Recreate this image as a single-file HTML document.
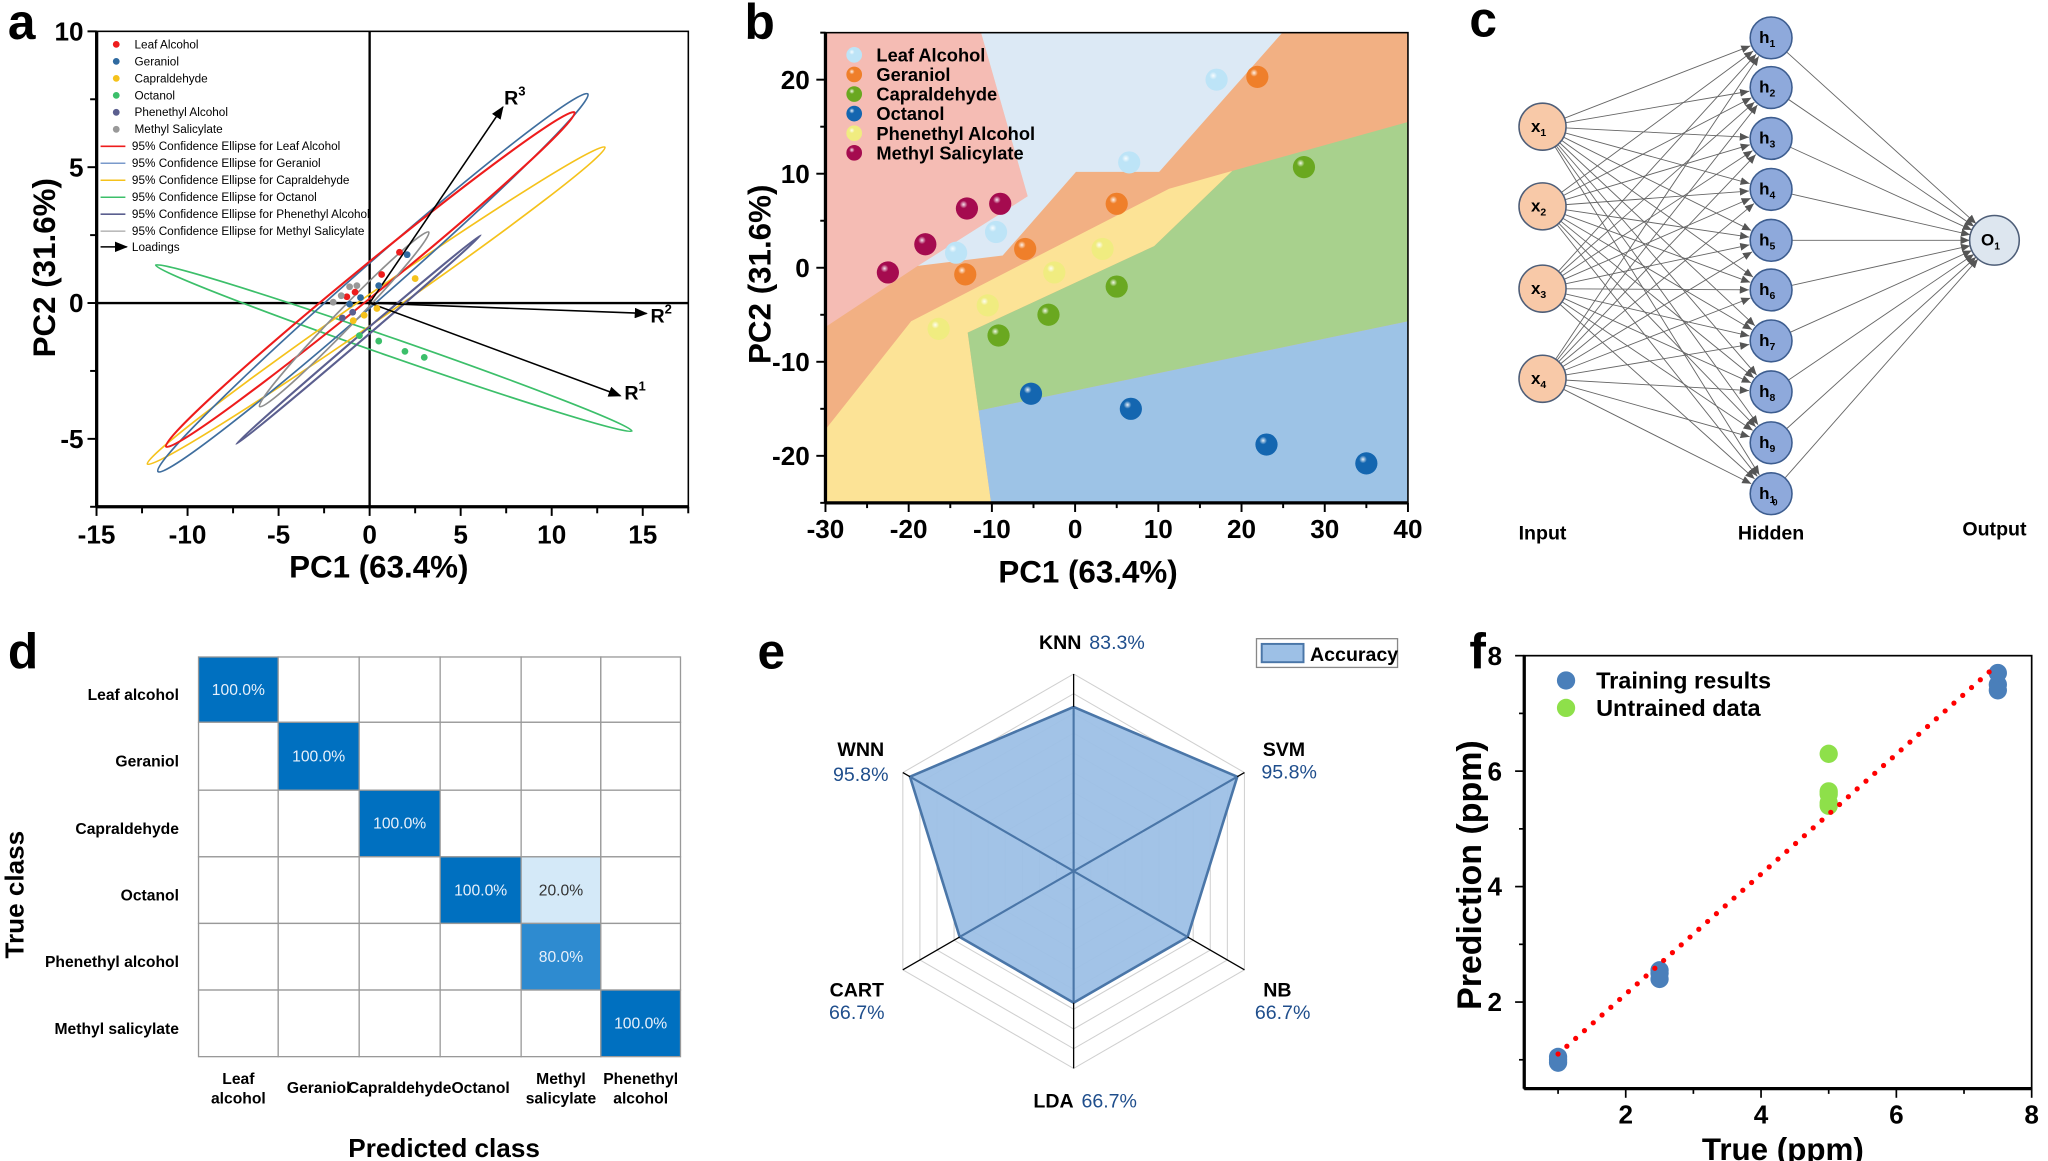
<!DOCTYPE html>
<html><head><meta charset="utf-8">
<style>
html,body{margin:0;padding:0;background:#fff;overflow:hidden}
svg{display:block}
text{font-family:"Liberation Sans",Arial,sans-serif}
</style></head>
<body>
<svg id="s" width="2048" height="1161" viewBox="0 0 2048 1161" xmlns="http://www.w3.org/2000/svg">
<defs>
<radialGradient id="gl" cx="35%" cy="32%" r="70%"><stop offset="0" stop-color="#fff" stop-opacity="0.9"/><stop offset="0.25" stop-color="#fff" stop-opacity="0"/></radialGradient>
<marker id="ah" markerWidth="10" markerHeight="8" refX="9" refY="4" orient="auto" markerUnits="userSpaceOnUse"><path d="M0,0 L10,4 L0,8 z" fill="#000"/></marker>
<marker id="ah2" markerWidth="7" markerHeight="6" refX="7" refY="3" orient="auto" markerUnits="userSpaceOnUse"><path d="M0,0 L7,3 L0,6 z" fill="#555"/></marker>
</defs>
<g id="g" transform="scale(1.30612)"></g>
</svg>
<script>
const NS="http://www.w3.org/2000/svg";const G=document.getElementById('g');
function el(t,a,txt){const e=document.createElementNS(NS,t);for(const k in a)e.setAttribute(k,a[k]);if(txt!==undefined)e.textContent=txt;G.appendChild(e);return e;}
function T(x,y,s,o){o=o||{};return el('text',Object.assign({x:x,y:y,'font-size':o.fs||14,'font-weight':o.fw||'bold','text-anchor':o.a||'middle',fill:o.fill||'#000'},o.tr?{transform:o.tr}:{}),s);}
[['a',6,30],['b',570,30],['c',1125,28],['d',6,512],['e',580,512],['f',1125,512]].forEach(l=>T(l[1],l[2],l[0],{fs:38,a:'start'}));

// ===== Panel a =====
const ax=x=>283+x*13.94, ay=y=>232-y*20.8;
el('rect',{x:74,y:24,width:453,height:364,fill:'none',stroke:'#000','stroke-width':1.2});
el('line',{x1:74,y1:24,x2:74,y2:388,stroke:'#000','stroke-width':2.5});
el('line',{x1:74,y1:388,x2:527,y2:388,stroke:'#000','stroke-width':2.5});
el('line',{x1:283,y1:24,x2:283,y2:388,stroke:'#000','stroke-width':1.8});
el('line',{x1:74,y1:232,x2:527,y2:232,stroke:'#000','stroke-width':1.8});
for(let v=-15;v<=17.5;v+=2.5){const X=ax(v);el('line',{x1:X,y1:388,x2:X,y2:v%5==0?395:393,stroke:'#000','stroke-width':1.5});if(v%5==0)T(X,416,String(v),{fs:20});}
for(let v=-7.5;v<=10;v+=2.5){const Y=ay(v);el('line',{x1:74,y1:Y,x2:v%5==0?67:69,y2:Y,stroke:'#000','stroke-width':1.5});if(v%5==0)T(64,Y+7,String(v),{fs:20,a:'end'});}
T(290,442,'PC1 (63.4%)',{fs:24});
T(42,205,'PC2 (31.6%)',{fs:24,tr:'rotate(-90 42 205)'});
function ell(cx,cy,rx,ry,ang,c,w){el('ellipse',{cx:cx,cy:cy,rx:rx,ry:ry,fill:'none',stroke:c,'stroke-width':w||1.3,transform:`rotate(${ang} ${cx} ${cy})`});}
ell(301.5,266.5,193,7,19.2,'#3cbf6a');
ell(288,234,213,10,-34.7,'#f5c21b');
ell(285.5,216.5,219,13,-41.3,'#3f6e9e');
ell(283.5,214,202,11,-39.3,'#ee1c1c',1.6);
ell(263.5,244.5,93,7,-45.9,'#8e8e8e');
ell(274.5,260,123,2,-40.5,'#5b5f8f',1.6);
[[385,82],[495,240],[475,303]].forEach(p=>el('line',{x1:283,y1:232,x2:p[0],y2:p[1],stroke:'#000','stroke-width':1.2,'marker-end':'url(#ah)'}));
function sup(x,y,b,s){const t=T(x,y,b,{fs:15,a:'start'});const ts=document.createElementNS(NS,'tspan');ts.setAttribute('font-size',10);ts.setAttribute('dy',-7);ts.textContent=s;t.appendChild(ts);}
sup(386,80,'R','3');sup(498,247,'R','2');sup(478,306,'R','1');
const ap={'#ee1c1c':[[1.64,1.87],[0.66,1.05],[-0.8,0.4],[-1.25,0.23]],'#2f6aa0':[[2.06,1.78],[0.5,0.64],[-0.5,0.2],[-1.1,-0.04]],'#f5c21b':[[2.5,0.9],[0.4,-0.2],[-0.3,-0.45],[-0.9,-0.65]],'#3cbf6a':[[-0.56,-1.2],[0.5,-1.4],[1.94,-1.78],[3,-2]],'#5b5f8f':[[-1.5,-0.55],[-0.93,-0.34]],'#999':[[-1.1,0.6],[-0.7,0.64],[-1.56,0.27],[-2,0.03]]};
for(const c in ap)ap[c].forEach(p=>el('circle',{cx:ax(p[0]),cy:ay(p[1]),r:2.6,fill:c}));
const la=[['#ee1c1c','Leaf Alcohol'],['#2f6aa0','Geraniol'],['#f5c21b','Capraldehyde'],['#3cbf6a','Octanol'],['#5b5f8f','Phenethyl Alcohol'],['#999','Methyl Salicylate']];
la.forEach((l,i)=>{const y=34+i*13;el('circle',{cx:89,cy:y,r:2.6,fill:l[0]});T(103,y+3,l[1],{fs:9,a:'start',fw:'normal'});});
const le=[['#ee1c1c','95% Confidence Ellipse for  Leaf Alcohol'],['#7a9acb','95% Confidence Ellipse for Geraniol'],['#f5c21b','95% Confidence Ellipse for Capraldehyde'],['#3cbf6a','95% Confidence Ellipse for Octanol'],['#5b5f8f','95% Confidence Ellipse for Phenethyl Alcohol'],['#bbb','95% Confidence Ellipse for  Methyl Salicylate']];
le.forEach((l,i)=>{const y=112+i*13;el('line',{x1:77,y1:y,x2:96,y2:y,stroke:l[0],'stroke-width':1.2});T(101,y+3,l[1],{fs:9,a:'start',fw:'normal'});});
el('line',{x1:77,y1:189,x2:97,y2:189,stroke:'#000','stroke-width':1.2,'marker-end':'url(#ah)'});
T(101,192,'Loadings',{fs:9,a:'start',fw:'normal'});

// ===== Panel b =====
const bx=x=>632+(x+30)*6.371, by=y=>205-y*7.2;
const P=a=>a.map(p=>bx(p[0]).toFixed(1)+','+by(p[1]).toFixed(1)).join(' ');
el('rect',{x:bx(-30),y:by(25),width:bx(40)-bx(-30),height:by(-25)-by(25),fill:'#f2b083'});
el('polygon',{points:P([[-30,25],[-11.3,25],[-5.7,7.6],[-18.9,0.2],[-30,-6.3]]),fill:'#f5bcb4'});
el('polygon',{points:P([[-11.3,25],[24.9,25],[10.1,10.2],[0.1,10.2],[-8.7,1.3],[-18.9,0.2],[-5.7,7.6]]),fill:'#dce9f5'});
el('polygon',{points:P([[-30,-17.2],[-19.7,-5.7],[-9,-0.8],[11.3,8.4],[18.9,10.3],[9.5,2.3],[-12.9,-6.9],[-11.6,-15.2],[-10.1,-25],[-30,-25]]),fill:'#fce396'});
el('polygon',{points:P([[18.9,10.3],[40,15.5],[40,-5.7],[-11.6,-15.2],[-12.9,-6.9],[9.5,2.3]]),fill:'#a8d18d'});
el('polygon',{points:P([[-11.6,-15.2],[40,-5.7],[40,-25],[-10.1,-25]]),fill:'#9dc3e6'});
el('rect',{x:bx(-30),y:by(25),width:bx(40)-bx(-30),height:by(-25)-by(25),fill:'none',stroke:'#000','stroke-width':1.2});
el('line',{x1:bx(-30),y1:by(25),x2:bx(-30),y2:by(-25),stroke:'#000','stroke-width':2.5});
el('line',{x1:bx(-30),y1:by(-25),x2:bx(40),y2:by(-25),stroke:'#000','stroke-width':2.5});
for(let v=-30;v<=40;v+=5){const X=bx(v);el('line',{x1:X,y1:by(-25),x2:X,y2:by(-25)+(v%10==0?7:4),stroke:'#000','stroke-width':1.5});if(v%10==0)T(X,412,String(v),{fs:20});}
for(let v=-25;v<=25;v+=5){const Y=by(v);el('line',{x1:bx(-30),y1:Y,x2:bx(-30)-(v%10==0?7:4),y2:Y,stroke:'#000','stroke-width':1.5});if(v%10==0&&Math.abs(v)<25)T(620,Y+7,String(v),{fs:20,a:'end'});}
T(833,446,'PC1 (63.4%)',{fs:24});
T(590,210,'PC2 (31.6%)',{fs:24,tr:'rotate(-90 590 210)'});
const bp=[['#bde4f7',[[17,20],[6.5,11.2],[-9.5,3.8],[-14.3,1.6]],'Leaf Alcohol'],['#ef7f2a',[[21.9,20.3],[5,6.8],[-6,2],[-13.2,-0.7]],'Geraniol'],['#6aa820',[[27.5,10.7],[5,-2],[-3.2,-5],[-9.2,-7.2]],'Capraldehyde'],['#1466b0',[[-5.3,-13.4],[6.7,-15],[23,-18.8],[35,-20.8]],'Octanol'],['#f0ec80',[[3.3,2],[-2.5,-0.5],[-10.5,-4],[-16.4,-6.5]],'Phenethyl Alcohol'],['#a50b4f',[[-9,6.8],[-13,6.3],[-18,2.5],[-22.5,-0.5]],'Methyl Salicylate']];
function ball(x,y,r,c){el('circle',{cx:x,cy:y,r:r,fill:c});el('circle',{cx:x,cy:y,r:r,fill:'url(#gl)'});}
bp.forEach((s,i)=>{s[1].forEach(p=>ball(bx(p[0]),by(p[1]),8.5,s[0]));ball(654,42+i*15,6,s[0]);T(671,47+i*15,s[2],{fs:14,a:'start'});});

// ===== Panel c =====
const inp=[97,158,221,290].map(y=>[1181,y]);
const hid=[29,67,106,145,184,222,261,300,339,378].map(y=>[1356,y]);
const out=[1527,184];
inp.forEach(a=>hid.forEach(h=>{const dx=h[0]-a[0],dy=h[1]-a[1],d=Math.hypot(dx,dy);el('line',{x1:a[0]+dx/d*18,y1:a[1]+dy/d*18,x2:h[0]-dx/d*17,y2:h[1]-dy/d*17,stroke:'#666','stroke-width':0.7,'marker-end':'url(#ah2)'});}));
hid.forEach(h=>{const dx=out[0]-h[0],dy=out[1]-h[1],d=Math.hypot(dx,dy);el('line',{x1:h[0]+dx/d*16,y1:h[1]+dy/d*16,x2:out[0]-dx/d*19,y2:out[1]-dy/d*19,stroke:'#666','stroke-width':0.7,'marker-end':'url(#ah2)'});});
function node(p,r,f,s,lab,sub){el('circle',{cx:p[0],cy:p[1],r:r,fill:f,stroke:s,'stroke-width':1.2});const t=T(p[0]-3,p[1]+4,lab,{fs:13});const ts=document.createElementNS(NS,'tspan');ts.setAttribute('font-size',8);ts.setAttribute('dy',3);ts.textContent=sub;t.appendChild(ts);}
inp.forEach((p,i)=>node(p,18,'#f8c9a8','#4e5e78','x',String(i+1)));
hid.forEach((p,i)=>node(p,16,'#8ea9db','#3d5d8f','h',i<9?String(i+1):'1'));
T(1359,387,'0',{fs:7});
node(out,19,'#dde6ef','#4e5e78','O','1');
T(1181,413,'Input',{fs:15});T(1356,413,'Hidden',{fs:15});T(1527,410,'Output',{fs:15});

// ===== Panel d =====
const cx=[152,213,275,337,399,460,521],ry=[503,553,605,656,707,758,809];
const cells={'0,0':['#0070c0','100.0%'],'1,1':['#0070c0','100.0%'],'2,2':['#0070c0','100.0%'],'3,3':['#0070c0','100.0%'],'3,4':['#d4e9f8','20.0%'],'4,4':['#2e8bd0','80.0%'],'5,5':['#0070c0','100.0%']};
for(let r=0;r<6;r++)for(let c=0;c<6;c++){const k=r+','+c;el('rect',{x:cx[c],y:ry[r],width:cx[c+1]-cx[c],height:ry[r+1]-ry[r],fill:cells[k]?cells[k][0]:'#fff',stroke:'#999','stroke-width':1});if(cells[k])T((cx[c]+cx[c+1])/2,(ry[r]+ry[r+1])/2+4,cells[k][1],{fs:12,fw:'normal',fill:k=='3,4'?'#333':'#e8f0fa'});}
['Leaf alcohol','Geraniol','Capraldehyde','Octanol','Phenethyl alcohol','Methyl salicylate'].forEach((s,i)=>T(137,(ry[i]+ry[i+1])/2+8,s,{fs:12,a:'end'}));
[['Leaf','alcohol'],['Geraniol'],['Capraldehyde'],['Octanol'],['Methyl','salicylate'],['Phenethyl','alcohol']].forEach((s,i)=>{const x=(cx[i]+cx[i+1])/2;if(s.length==2){T(x,830,s[0],{fs:12});T(x,845,s[1],{fs:12});}else T(x,837,s[0],{fs:12});});
T(340,886,'Predicted class',{fs:20});
T(18,685,'True class',{fs:20,tr:'rotate(-90 18 685)'});

// ===== Panel e =====
const ec=[822,667],R=151;
const angs=[-90,-30,30,90,150,210].map(a=>a*Math.PI/180);
const pt=(i,f)=>[ec[0]+Math.cos(angs[i])*R*f,ec[1]+Math.sin(angs[i])*R*f];
for(let l=1;l<=10;l++){el('polygon',{points:angs.map((a,i)=>pt(i,l/10).join(',')).join(' '),fill:'none',stroke:'#d0d0d0','stroke-width':0.8});}
const vals=[0.833,0.958,0.667,0.667,0.667,0.958];
el('polygon',{points:vals.map((v,i)=>pt(i,v).join(',')).join(' '),fill:'#9dc0e6',stroke:'#4a76a8','stroke-width':2,'fill-opacity':0.95});
for(let i=0;i<6;i++){const p=pt(i,1);el('line',{x1:ec[0],y1:ec[1],x2:p[0],y2:p[1],stroke:'#000','stroke-width':1});}
for(let i=0;i<6;i++){const p=pt(i,vals[i]);el('line',{x1:ec[0],y1:ec[1],x2:p[0],y2:p[1],stroke:'#4a76a8','stroke-width':1.6});}
const bl='#1f4e8c';
T(828,497,'KNN',{fs:15,a:'end'});T(834,497,'83.3%',{fs:15,fw:'normal',a:'start',fill:bl});
T(659,579,'WNN',{fs:15});T(659,598,'95.8%',{fs:15,fw:'normal',fill:bl});
T(983,579,'SVM',{fs:15});T(987,596,'95.8%',{fs:15,fw:'normal',fill:bl});
T(656,763,'CART',{fs:15});T(656,780,'66.7%',{fs:15,fw:'normal',fill:bl});
T(978,763,'NB',{fs:15});T(982,780,'66.7%',{fs:15,fw:'normal',fill:bl});
T(822,848,'LDA',{fs:15,a:'end'});T(828,848,'66.7%',{fs:15,fw:'normal',a:'start',fill:bl});
el('rect',{x:962,y:489,width:108,height:22,fill:'#fff',stroke:'#888','stroke-width':1});
el('rect',{x:966,y:493,width:32,height:14,fill:'#9dc0e6',stroke:'#4a76a8','stroke-width':1.5});
T(1003,506,'Accuracy',{fs:15,a:'start'});

// ===== Panel f =====
const fx=x=>1167+(x-0.5)*51.8, fy=y=>502+(8-y)*44.2;
el('rect',{x:fx(0.5),y:fy(8),width:fx(8)-fx(0.5),height:fy(0.5)-fy(8),fill:'none',stroke:'#000','stroke-width':1.3});
el('line',{x1:fx(0.5),y1:fy(8),x2:fx(0.5),y2:fy(0.5),stroke:'#000','stroke-width':2.5});
el('line',{x1:fx(0.5),y1:fy(0.5),x2:fx(8),y2:fy(0.5),stroke:'#000','stroke-width':2.5});
for(let v=1;v<=8;v++){const X=fx(v);el('line',{x1:X,y1:fy(0.5),x2:X,y2:fy(0.5)+(v%2==0?7:4),stroke:'#000','stroke-width':1.3});if(v%2==0)T(X,860,String(v),{fs:20});
const Y=fy(v);el('line',{x1:fx(0.5),y1:Y,x2:fx(0.5)-(v%2==0?7:4),y2:Y,stroke:'#000','stroke-width':1.3});if(v%2==0)T(1150,Y+7,String(v),{fs:20,a:'end'});}
T(1365,888,'True (ppm)',{fs:24});
T(1134,670,'Prediction (ppm)',{fs:26,tr:'rotate(-90 1134 670)'});
[[1,1.0],[1,0.95],[1,1.05],[2.5,2.4],[2.5,2.5],[2.5,2.55],[7.5,7.7],[7.5,7.5],[7.5,7.4]].forEach(p=>el('circle',{cx:fx(p[0]),cy:fy(p[1]),r:7,fill:'#4a7fba'}));
[[5,6.3],[5,5.65],[5,5.6],[5,5.45],[5,5.4]].forEach(p=>el('circle',{cx:fx(p[0]),cy:fy(p[1]),r:7,fill:'#8ee04a'}));
el('line',{x1:fx(1),y1:fy(1.1),x2:fx(7.45),y2:fy(7.8),stroke:'#ff0000','stroke-width':4,'stroke-dasharray':'0 9','stroke-linecap':'round'});
el('circle',{cx:1199,cy:521,r:7,fill:'#4a7fba'});T(1222,527,'Training results',{fs:18,a:'start'});
el('circle',{cx:1199,cy:542,r:7,fill:'#8ee04a'});T(1222,548,'Untrained data',{fs:18,a:'start'});
</script>
</body></html>
